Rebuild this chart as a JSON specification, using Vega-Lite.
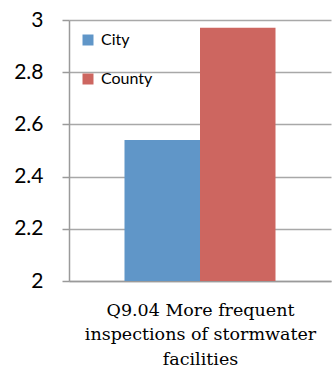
{
  "$schema": "https://vega.github.io/schema/vega-lite/v6.json",
  "width": 262,
  "height": 261,
  "autosize": "none",
  "padding": {"left": 69, "top": 20, "right": 1, "bottom": 90},
  "background": "white",
  "data": {"values": [
    {"question": "Q9.04", "group": "City", "value": 2.54},
    {"question": "Q9.04", "group": "County", "value": 2.97}
  ]},
  "config": {"view": {"stroke": null}},
  "mark": {"type": "bar", "clip": true},
  "encoding": {
    "x": {
      "field": "question", "type": "nominal",
      "scale": {"paddingInner": 0, "paddingOuter": 0.3675},
      "axis": {
        "labels": false, "ticks": false,
        "domainColor": "#9a9a9a", "domainWidth": 1.5,
        "title": ["Q9.04 More frequent", "inspections of stormwater", "facilities"],
        "titleFont": "DejaVu Serif", "titleFontSize": 17.5, "titleFontWeight": "normal",
        "titleColor": "#000", "titleLineHeight": 24.5, "titlePadding": 20
      }
    },
    "xOffset": {"field": "group", "type": "nominal", "scale": {"paddingInner": 0, "paddingOuter": 0}},
    "y": {
      "field": "value", "type": "quantitative",
      "scale": {"domain": [2, 3], "zero": false, "nice": false},
      "axis": {
        "values": [2, 2.2, 2.4, 2.6, 2.8, 3], "format": ".1~f",
        "title": null,
        "domainColor": "#9a9a9a", "domainWidth": 1.5,
        "tickColor": "#9a9a9a", "tickSize": 7, "tickWidth": 1.5,
        "gridColor": "#a8a8a8", "gridWidth": 1.5,
        "labelFont": "Lato", "labelFontSize": 21, "labelColor": "#000", "labelPadding": 19
      }
    },
    "color": {
      "field": "group", "type": "nominal",
      "scale": {"domain": ["City", "County"], "range": ["#6096C8", "#CD6660"]},
      "legend": {
        "title": null, "orient": "none", "legendX": 11, "legendY": 12,
        "symbolType": "square", "symbolSize": 121, "symbolStrokeWidth": 0,
        "labelFont": "Lato", "labelFontSize": 16, "labelColor": "#000",
        "rowPadding": 23, "labelOffset": 5
      }
    }
  }
}
